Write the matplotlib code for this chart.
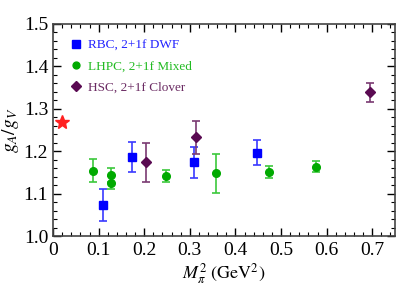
import numpy as np
from matplotlib import pyplot as plt
from matplotlib.ticker import MultipleLocator

plt.rcParams['font.family'] = ['Liberation Serif', 'DejaVu Serif']
plt.rcParams['mathtext.fontset'] = 'stix'

# RBC, 2+1f DWF
rbc_x = [0.110, 0.174, 0.309, 0.448]
rbc_y = [1.073, 1.187, 1.174, 1.197]
rbc_lo = [1.035, 1.150, 1.137, 1.167]
rbc_hi = [1.112, 1.222, 1.209, 1.226]

# LHPC, 2+1f Mixed
lhpc_x = [0.087, 0.128, 0.128, 0.247, 0.358, 0.473, 0.577]
lhpc_y = [1.154, 1.144, 1.126, 1.142, 1.148, 1.152, 1.163]
lhpc_lo = [1.128, 1.128, 1.111, 1.128, 1.102, 1.138, 1.152]
lhpc_hi = [1.181, 1.160, 1.142, 1.157, 1.193, 1.166, 1.177]

# HSC, 2+1f Clover
hsc_x = [0.203, 0.314, 0.696]
hsc_y = [1.174, 1.233, 1.339]
hsc_lo = [1.128, 1.193, 1.317]
hsc_hi = [1.220, 1.271, 1.362]

# experiment
exp_x = [0.0195]
exp_y = [1.270]

fig = plt.figure(figsize=(3.99, 2.89), dpi=100)
ax = fig.add_axes([0.133, 0.183, 0.857, 0.734])

def yerr(y, lo, hi):
    y = np.array(y)
    return [y - np.array(lo), np.array(hi) - y]

ax.errorbar(rbc_x, rbc_y, yerr=yerr(rbc_y, rbc_lo, rbc_hi), fmt='none',
            ecolor='#3a3aff', elinewidth=1.2, capsize=3, capthick=1.2)
ax.plot(rbc_x, rbc_y, 's', color='#0000ff', ms=6, label='RBC, 2+1f DWF', ls='none')

ax.errorbar(lhpc_x, lhpc_y, yerr=yerr(lhpc_y, lhpc_lo, lhpc_hi), fmt='none',
            ecolor='#3cc83c', elinewidth=1.2, capsize=3, capthick=1.2)
ax.plot(lhpc_x, lhpc_y, 'o', color='#00aa00', ms=5.5, label='LHPC, 2+1f Mixed', ls='none')

ax.errorbar(hsc_x, hsc_y, yerr=yerr(hsc_y, hsc_lo, hsc_hi), fmt='none',
            ecolor='#7a3a72', elinewidth=1.2, capsize=3, capthick=1.2)
ax.plot(hsc_x, hsc_y, 'D', color='#5a0a52', ms=5.5, label='HSC, 2+1f Clover', ls='none')

ax.plot(exp_x, exp_y, '*', color='#ff2020', ms=10, ls='none')

ax.set_xlim(0, 0.75)
ax.set_ylim(1.0, 1.5)
ax.xaxis.set_major_locator(MultipleLocator(0.1))
ax.xaxis.set_minor_locator(MultipleLocator(0.02))
ax.yaxis.set_major_locator(MultipleLocator(0.1))
ax.yaxis.set_minor_locator(MultipleLocator(0.02))
ax.set_xticks(np.arange(0, 0.71, 0.1))
ax.set_xticklabels(['0', '0.1', '0.2', '0.3', '0.4', '0.5', '0.6', '0.7'])
ax.tick_params(which='both', direction='in', top=True, right=True, labelsize=14)
ax.tick_params(which='major', length=6, width=1)
ax.tick_params(which='minor', length=3, width=0.8)
ax.tick_params(axis='x', pad=4)
for s in ax.spines.values():
    s.set_linewidth(1.2)
    s.set_color('#444444')

ax.set_xlabel(r'$M_\pi^2\ (\mathrm{GeV}^2)$', fontsize=13, labelpad=2)
ax.set_ylabel(r'$g_A/g_V$', fontsize=14, labelpad=2)

leg = ax.legend(loc='upper left', bbox_to_anchor=(0.02, 0.97), frameon=False,
                fontsize=9.5, handletextpad=0.4, borderaxespad=0.3,
                labelspacing=0.65, handlelength=1.0, markerscale=0.9)
for t, c in zip(leg.get_texts(), ['#2222ff', '#22bb22', '#6a2a62']):
    t.set_color(c)

fig.savefig('out.png', dpi=100)
